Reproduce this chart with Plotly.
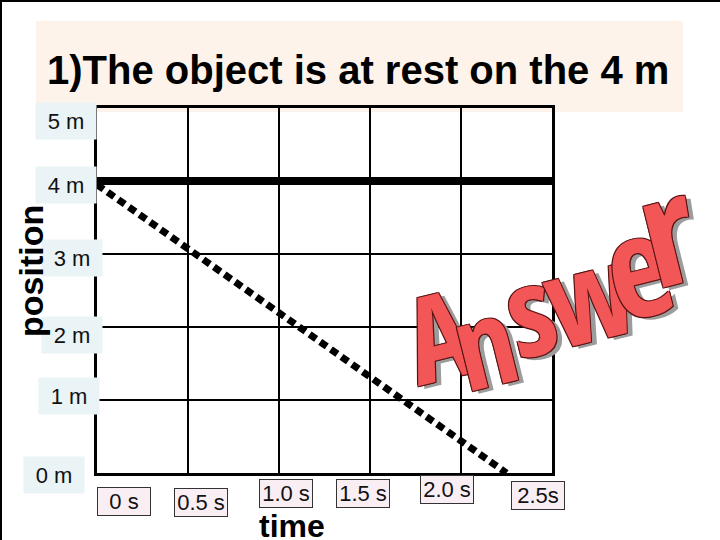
import plotly.graph_objects as go

# ---------------- data ----------------
x_ticks = [0, 0.5, 1.0, 1.5, 2.0, 2.5]
x_tick_labels = ["0 s", "0.5 s", "1.0 s", "1.5 s", "2.0 s", "2.5s"]
y_ticks = [0, 1, 2, 3, 4, 5]
y_tick_labels = ["0 m", "1 m", "2 m", "3 m", "4 m", "5 m"]

rest_time = [0, 2.5]
rest_position = [4, 4]

dashed_time = [0, 2.25]
dashed_position = [3.95, 0]

title_text = "1)The object is at rest on the 4 m"
x_title = "time"
y_title = "position"
stamp_letters = ["A", "n", "s", "w", "e", "r"]

# ---------------- layout / style ----------------
W, H = 720, 540
L, R, T, B = 97, 168, 108, 67
PW, PH = W - L - R, H - T - B


def px_x(p):
    return (p - L) / PW


def px_y(p):
    return (H - B - p) / PH


FONT = "Liberation Sans, Arial, sans-serif"

fig = go.Figure()

fig.add_trace(go.Scatter(
    x=rest_time, y=rest_position, mode="lines",
    line=dict(color="black", width=8), hoverinfo="skip", showlegend=False))

fig.add_trace(go.Scatter(
    x=dashed_time, y=dashed_position, mode="lines",
    line=dict(color="black", width=7, dash="8px,5px"), hoverinfo="skip", showlegend=False))

annotations = []

# title
annotations.append(dict(
    text=title_text, xref="paper", yref="paper", x=px_x(358), y=px_y(70),
    xanchor="center", yanchor="middle", showarrow=False,
    font=dict(family=FONT, size=40, color="black", weight="bold")))

# y labels (boxed)
y_label_cx = [53.5, 68.5, 71.5, 71.5, 66, 66]
y_label_shift = [-1.5, 4.5, -8, -3.5, -4, -12.5]
for v, lab, cx, sh in zip(y_ticks, y_tick_labels, y_label_cx, y_label_shift):
    annotations.append(dict(
        text=lab, xref="paper", yref="y", x=px_x(cx), y=v, yshift=sh,
        xanchor="center", yanchor="middle", showarrow=False,
        width=56, height=32, borderpad=2, bgcolor="#EAF3F5",
        font=dict(family=FONT, size=22, color="#111111")))

# x labels (boxed)
x_label_shift = [27, 12.5, 6.5, -7, -14.5, -14.5]
x_label_cy = [501.5, 502, 493.5, 493.5, 489, 495]
for v, lab, sh, cy in zip(x_ticks, x_tick_labels, x_label_shift, x_label_cy):
    annotations.append(dict(
        text=lab, xref="x", yref="paper", x=v, xshift=sh, y=px_y(cy),
        xanchor="center", yanchor="middle", showarrow=False,
        width=50, height=25, borderpad=1, borderwidth=1,
        bordercolor="#333333", bgcolor="#F9EEF3",
        font=dict(family=FONT, size=22, color="#111111")))

# axis titles
annotations.append(dict(
    text=x_title, xref="paper", yref="paper", x=px_x(292), y=px_y(526),
    xanchor="center", yanchor="middle", showarrow=False,
    font=dict(family=FONT, size=32, color="black", weight="bold")))
annotations.append(dict(
    text=y_title, xref="paper", yref="paper", x=px_x(31), y=px_y(271),
    xanchor="center", yanchor="middle", showarrow=False, textangle=-90,
    font=dict(family=FONT, size=34, color="black", weight="bold")))

# "Answer" word-art stamp
stamp_cx = [438, 484, 529, 588, 637, 666]
stamp_cy = [333, 340, 307, 292, 262, 226]
stamp_size = [120, 120, 124, 126, 140, 152]
outline = "#5a1414"
shadow = (f"1px 1px 0 {outline}, -1px -1px 0 {outline}, 1px -1px 0 {outline}, "
          f"-1px 1px 0 {outline}, 5px 4px 0 #9c9c9c")
for ch, cx, cy, sz in zip(stamp_letters, stamp_cx, stamp_cy, stamp_size):
    annotations.append(dict(
        text=f'<span style="font-stretch:75%">{ch}</span>',
        xref="paper", yref="paper", x=px_x(cx), y=px_y(cy),
        xanchor="center", yanchor="middle", showarrow=False, textangle=-14,
        font=dict(family="Open Sans, Liberation Sans Narrow, sans-serif",
                  size=sz, color="#F25656", weight="bold", shadow=shadow)))

shapes = [
    # title background
    dict(type="rect", xref="paper", yref="paper",
         x0=px_x(36), x1=px_x(683), y0=px_y(112), y1=px_y(21),
         fillcolor="#FDF3EA", line=dict(width=0), layer="below"),
    # slide border (top and left)
    dict(type="line", xref="paper", yref="paper",
         x0=px_x(0), x1=px_x(720), y0=px_y(1), y1=px_y(1),
         line=dict(color="black", width=2)),
    dict(type="line", xref="paper", yref="paper",
         x0=px_x(1), x1=px_x(1), y0=px_y(0), y1=px_y(540),
         line=dict(color="black", width=2)),
]

axis_common = dict(
    showgrid=True, gridcolor="black", gridwidth=2,
    showline=True, linecolor="black", linewidth=3, mirror=True,
    zeroline=False, showticklabels=False, ticks="", fixedrange=True)

fig.update_layout(
    width=W, height=H,
    margin=dict(l=L, r=R, t=T, b=B, pad=0),
    paper_bgcolor="white", plot_bgcolor="white",
    showlegend=False,
    xaxis=dict(range=[0, 2.5], tickvals=x_ticks, **axis_common),
    yaxis=dict(range=[0, 5], tickvals=y_ticks, **axis_common),
    annotations=annotations,
    shapes=shapes,
)

fig.write_html("out.html", config={"displayModeBar": False},
               post_script="document.body.style.margin='0';document.body.style.overflow='hidden';")
